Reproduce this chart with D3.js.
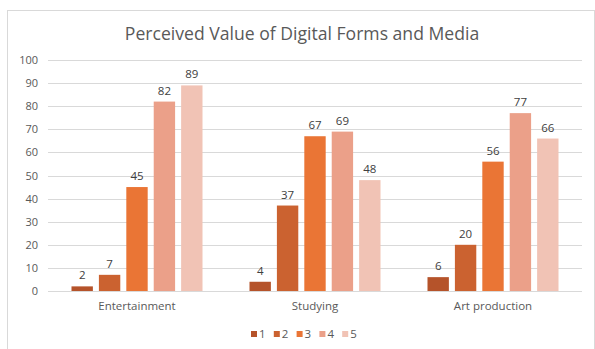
<!DOCTYPE html>
<html>
<head>
<meta charset="utf-8">
<script src="https://cdn.jsdelivr.net/npm/d3@7"></script>
<style>
  html, body { margin: 0; padding: 0; background: #fff; }
  svg { display: block; font-family: "Open Sans", "Noto Sans", sans-serif; }
</style>
</head>
<body>
<svg id="chart" width="595" height="349"></svg>
<script>
// Survey data: rating counts (1–5) per use of digital forms and media
const categories = ["Entertainment", "Studying", "Art production"];
const ratings = ["1", "2", "3", "4", "5"];
const rating1 = [2, 4, 6];
const rating2 = [7, 37, 20];
const rating3 = [45, 67, 56];
const rating4 = [82, 69, 77];
const rating5 = [89, 48, 66];
const yTicks = [0, 10, 20, 30, 40, 50, 60, 70, 80, 90, 100];
const colors = ["#B5532A", "#CB6230", "#EA7535", "#EBA089", "#F1C3B5"];

const seriesValues = [rating1, rating2, rating3, rating4, rating5];

const svg = d3.select("#chart");

// Chart frame
svg.append("rect")
  .attr("x", 7.5).attr("y", 10.5)
  .attr("width", 587).attr("height", 360)
  .attr("fill", "#fff").attr("stroke", "#d9d9d9").attr("stroke-width", 1);

// Title
svg.append("text")
  .attr("x", 302).attr("y", 40)
  .attr("text-anchor", "middle")
  .attr("font-size", 17.6)
  .attr("fill", "#595959")
  .text("Perceived Value of Digital Forms and Media");

const plot = { left: 48, right: 582, top: 60, bottom: 291 };

const y = d3.scaleLinear().domain([0, 100]).range([plot.bottom, plot.top]);
const x0 = d3.scaleBand().domain(categories).range([plot.left, plot.right])
  .paddingInner(0.264).paddingOuter(0.132);
const x1 = d3.scaleBand().domain(ratings).range([0, x0.bandwidth()]).paddingInner(0.22);

// Gridlines
svg.append("g")
  .selectAll("line")
  .data(yTicks)
  .join("line")
  .attr("x1", plot.left).attr("x2", plot.right)
  .attr("y1", d => Math.round(y(d)) + 0.5).attr("y2", d => Math.round(y(d)) + 0.5)
  .attr("stroke", "#d9d9d9").attr("stroke-width", 1);

// Y axis labels
const yAxis = d3.axisLeft(y).tickValues(yTicks).tickSize(0).tickPadding(0);
svg.append("g")
  .attr("transform", `translate(${plot.left - 10},0)`)
  .call(yAxis)
  .call(g => g.select(".domain").remove())
  .call(g => g.selectAll("text")
    .attr("font-size", 11)
    .attr("fill", "#595959")
    .attr("font-family", "'Open Sans', sans-serif"));

// Bars
const groups = svg.append("g")
  .selectAll("g")
  .data(categories)
  .join("g")
  .attr("transform", d => `translate(${x0(d)},0)`);

groups.selectAll("rect")
  .data((c, ci) => ratings.map((r, ri) => ({ r, ri, v: seriesValues[ri][ci] })))
  .join("rect")
  .attr("x", d => x1(d.r))
  .attr("width", x1.bandwidth())
  .attr("y", d => y(d.v))
  .attr("height", d => y(0) - y(d.v))
  .attr("fill", d => colors[d.ri]);

// Value labels
groups.selectAll("text.val")
  .data((c, ci) => ratings.map((r, ri) => ({ r, ri, v: seriesValues[ri][ci] })))
  .join("text")
  .attr("class", "val")
  .attr("x", d => x1(d.r) + x1.bandwidth() / 2)
  .attr("y", d => y(d.v) - 7)
  .attr("text-anchor", "middle")
  .attr("font-size", 11.5)
  .attr("fill", "#404040")
  .text(d => d.v);

// Category axis labels
const xAxis = d3.axisBottom(x0).tickSize(0).tickPadding(0);
svg.append("g")
  .attr("transform", `translate(0,${plot.bottom + 11})`)
  .call(xAxis)
  .call(g => g.select(".domain").remove())
  .call(g => g.selectAll("text")
    .attr("font-size", 11.5)
    .attr("fill", "#595959")
    .attr("font-family", "'Open Sans', sans-serif"));

// Legend
const legend = svg.append("g").attr("transform", "translate(251,334)");
const item = legend.selectAll("g")
  .data(ratings)
  .join("g")
  .attr("transform", (d, i) => `translate(${i * 22.8},0)`);
item.append("rect")
  .attr("x", 0).attr("y", -3).attr("width", 6).attr("height", 6)
  .attr("fill", (d, i) => colors[i]);
item.append("text")
  .attr("x", 8).attr("y", 4)
  .attr("font-size", 11.5)
  .attr("fill", "#595959")
  .text(d => d);
</script>
</body>
</html>
